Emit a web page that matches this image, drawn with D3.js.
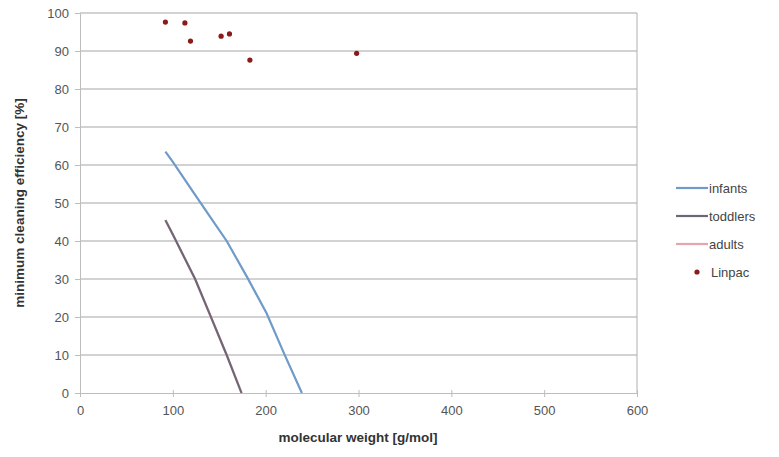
<!DOCTYPE html>
<html><head><meta charset="utf-8">
<script src="https://cdn.jsdelivr.net/npm/d3@7"></script>
<style>
body{margin:0;background:#fff;}
text{font-family:"Liberation Sans",Arial,sans-serif;}
</style></head>
<body><svg id="c" width="779" height="457"></svg>
<script>
const xTicks=[0,100,200,300,400,500,600];
const yTicks=[0,10,20,30,40,50,60,70,80,90,100];
const infantsX=[92,100,120,140,158,180,201,220,239];
const infantsY=[63.5,60.8,53.6,46.4,40,30.5,21,10.3,0];
const toddlersX=[92,100,124,140,158,174];
const toddlersY=[45.5,41.7,30,20.6,10,0];
const adultsX=[92,100,124,140,158,174];
const adultsY=[45.5,41.7,30,20.6,10,0];
const linpacX=[92,113,119,152,161,183,298];
const linpacY=[97.6,97.4,92.6,93.9,94.5,87.6,89.4];
const seriesNames=["infants","toddlers","adults","Linpac"];

const svg=d3.select("#c");
const L=80,R=637,T=13,B=393;
const x=d3.scaleLinear().domain([0,600]).range([L,R]);
const y=d3.scaleLinear().domain([0,100]).range([B,T]);

svg.append("g").selectAll("line").data(yTicks.filter(d=>d>0)).join("line")
 .attr("x1",L).attr("x2",R).attr("y1",d=>y(d)).attr("y2",d=>y(d))
 .attr("stroke","#a6a6a6").attr("stroke-width",1.2);
svg.append("line").attr("x1",R).attr("x2",R).attr("y1",T).attr("y2",B).attr("stroke","#b0b0b0");

const yAxis=svg.append("g").attr("transform",`translate(${L},0)`)
 .call(d3.axisLeft(y).tickValues(yTicks).tickSize(5).tickPadding(6));
const xAxis=svg.append("g").attr("transform",`translate(0,${B})`)
 .call(d3.axisBottom(x).tickValues(xTicks).tickSize(4).tickPadding(9));
[yAxis,xAxis].forEach(a=>{
 a.select(".domain").attr("stroke","#bdbdbd");
 a.selectAll(".tick line").attr("stroke","#bdbdbd");
 a.selectAll(".tick text").attr("fill","#555").attr("font-size",13).attr("font-family","Liberation Sans,Arial,sans-serif");
});
xAxis.selectAll(".tick line").attr("y1",-3);

const line=d3.line().x(d=>x(d[0])).y(d=>y(d[1]));
const mk=(xs,ys)=>xs.map((v,i)=>[v,ys[i]]);
svg.append("path").datum(mk(adultsX,adultsY)).attr("d",line).attr("fill","none").attr("stroke","#e8a4ae").attr("stroke-width",2.4);
svg.append("path").datum(mk(infantsX,infantsY)).attr("d",line).attr("fill","none").attr("stroke","#6f9bc8").attr("stroke-width",2.2);
svg.append("path").datum(mk(toddlersX,toddlersY)).attr("d",line).attr("fill","none").attr("stroke","#6a6878").attr("stroke-width",2);

svg.append("g").selectAll("circle").data(mk(linpacX,linpacY)).join("circle")
 .attr("cx",d=>x(d[0])).attr("cy",d=>y(d[1])).attr("r",2.6).attr("fill","#8b1a1a");

svg.append("text").attr("x",358).attr("y",442).attr("text-anchor","middle")
 .attr("font-size",13.5).attr("font-weight","bold").attr("fill","#333").text("molecular weight [g/mol]");
svg.append("text").attr("transform","translate(24,203) rotate(-90)").attr("text-anchor","middle")
 .attr("font-size",13.5).attr("font-weight","bold").attr("fill","#333").text("minimum cleaning efficiency [%]");

const lg=svg.append("g");
const ly=[188,216,244,272];
const lcol=["#6f9bc8","#6a6878","#e8a4ae","#8b1a1a"];
seriesNames.forEach((n,i)=>{
 if(i<3){
  lg.append("line").attr("x1",676).attr("x2",708).attr("y1",ly[i]).attr("y2",ly[i]).attr("stroke",lcol[i]).attr("stroke-width",2.2);
 } else {
  lg.append("circle").attr("cx",697).attr("cy",ly[i]).attr("r",2.6).attr("fill",lcol[i]);
 }
 lg.append("text").attr("x",i<3?709:711).attr("y",ly[i]+4.5).attr("font-size",13).attr("fill","#444").text(n);
});
</script></body></html>
